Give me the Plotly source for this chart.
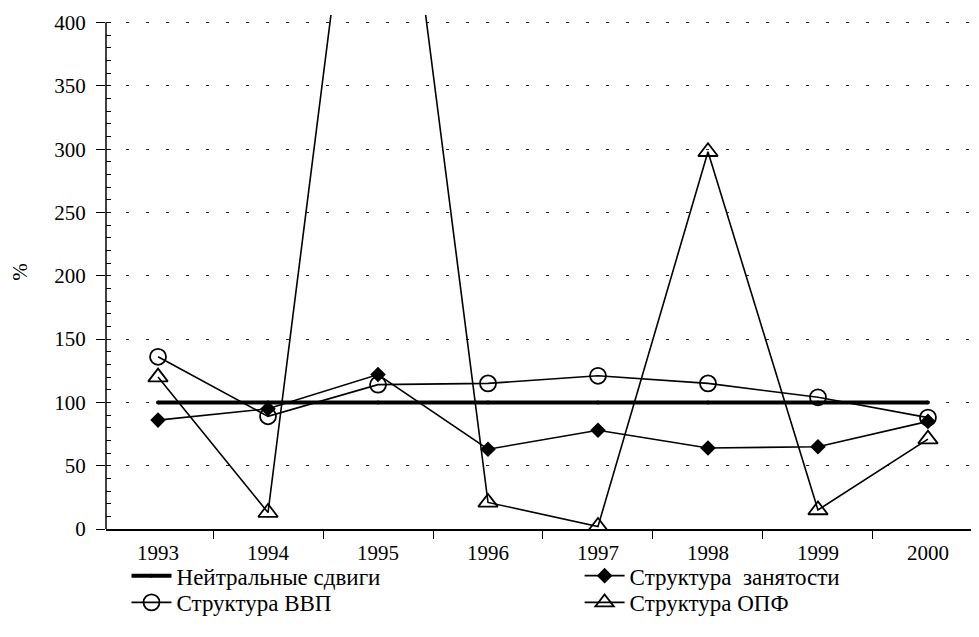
import plotly.graph_objects as go

years = ["1993", "1994", "1995", "1996", "1997", "1998", "1999", "2000"]
neutral = [100, 100, 100, 100, 100, 100, 100, 100]
employment = [86, 95, 122, 63, 78, 64, 65, 85]
gdp = [136, 89, 114, 115, 121, 115, 104, 88]
opf = [120, 13, 700, 21, 2, 298, 15, 71]

FONT = "Liberation Serif"

fig = go.Figure()
fig.add_trace(go.Scatter(x=years, y=neutral, name="Нейтральные сдвиги",
                         mode="lines+markers", legend="legend",
                         line=dict(color="black", width=4),
                         marker=dict(symbol="circle", size=4, color="black")))
fig.add_trace(go.Scatter(x=years, y=employment, name="Структура\u00a0 занятости",
                         mode="lines+markers", legend="legend2",
                         line=dict(color="black", width=1.6),
                         marker=dict(symbol="diamond", size=12, color="black")))
fig.add_trace(go.Scatter(x=years, y=gdp, name="Структура ВВП",
                         mode="lines+markers", legend="legend3",
                         line=dict(color="black", width=1.6),
                         marker=dict(symbol="circle-open", size=16, color="black",
                                     line=dict(width=1.8))))
fig.add_trace(go.Scatter(x=years, y=opf, name="Структура ОПФ",
                         mode="lines+markers", legend="legend4",
                         line=dict(color="black", width=1.6),
                         marker=dict(symbol="triangle-up-open", size=17, color="black",
                                     line=dict(width=1.8))))

fig.add_shape(type="line", xref="paper", yref="y", x0=0, x1=0, y0=0, y1=400,
              line=dict(color="black", width=1.5))

legend_style = dict(orientation="v", xanchor="left", yanchor="top",
                    itemwidth=40, tracegroupgap=0, bgcolor="rgba(0,0,0,0)",
                    font=dict(family=FONT, size=23, color="black"))

fig.update_layout(
    width=971, height=629,
    margin=dict(l=98, r=0, t=7, b=108, autoexpand=False),
    paper_bgcolor="white", plot_bgcolor="white",
    font=dict(family=FONT, size=21, color="black"),
    showlegend=True,
    legend=dict(x=0.0235, y=-0.049, **legend_style),
    legend2=dict(x=0.5425, y=-0.049, **legend_style),
    legend3=dict(x=0.0235, y=-0.101, **legend_style),
    legend4=dict(x=0.5425, y=-0.101, **legend_style),
    xaxis=dict(type="category", range=[-0.473, 7.464], showgrid=False,
               showline=True, linecolor="black", linewidth=1.5,
               ticks="outside", ticklen=8, tickcolor="black", tickson="boundaries",
               ticklabelstandoff=4,
               tickfont=dict(family=FONT, size=21), zeroline=False),
    yaxis=dict(range=[0, 406], tickvals=[0, 50, 100, 150, 200, 250, 300, 350, 400],
               showline=False, ticks="outside", ticklen=9, tickcolor="black",
               tickwidth=1.2, automargin=False, ticklabelstandoff=6,
               minor=dict(ticks="inside", dtick=10, ticklen=5, tickcolor="black",
                          showgrid=False, tick0=0),
               showgrid=True, gridcolor="#222", gridwidth=1, griddash="3px,17px",
               zeroline=False, tickfont=dict(family=FONT, size=21),
               title=dict(text="%", font=dict(family=FONT, size=21), standoff=26)),
)

fig.write_html("out.html")
